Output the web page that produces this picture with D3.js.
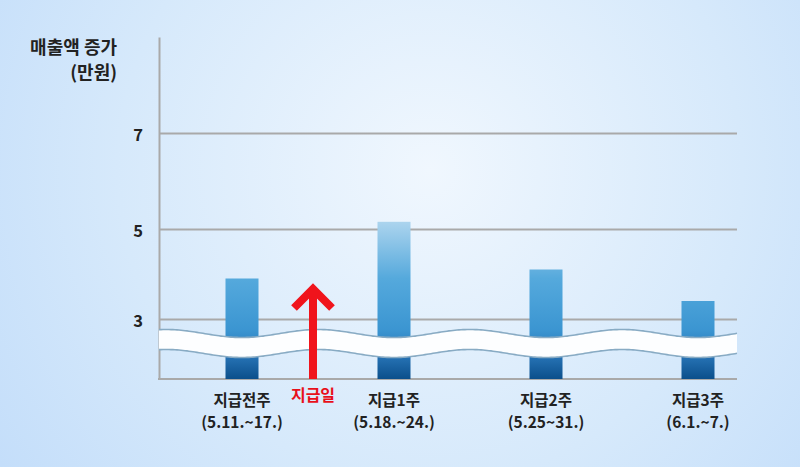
<!DOCTYPE html>
<html>
<head>
<meta charset="utf-8">
<script src="https://cdn.jsdelivr.net/npm/d3@7"></script>
<style>
  body { margin: 0; }
  svg { display: block; font-family: "Noto Sans CJK KR", "Noto Sans", sans-serif; }
</style>
</head>
<body>
<div id="chart"></div>
<script>
const categories = ["지급전주", "지급1주", "지급2주", "지급3주"];
const periods = ["(5.11.~17.)", "(5.18.~24.)", "(5.25~31.)", "(6.1.~7.)"];
const sales = [3.9, 5.15, 4.1, 3.4];
const yTicks = [3, 5, 7];

const W = 800, H = 467;
const x0 = 159, x1 = 737, yBase = 379;

const svg = d3.select("#chart")
    .append("svg")
    .attr("width", W)
    .attr("height", H);

const defs = svg.append("defs");

// soft radial background
const bg = defs.append("radialGradient")
    .attr("id", "bg")
    .attr("gradientUnits", "userSpaceOnUse")
    .attr("cx", 430).attr("cy", 170).attr("r", 520);
bg.append("stop").attr("offset", 0).attr("stop-color", "#f0f7fe");
bg.append("stop").attr("offset", 0.6).attr("stop-color", "#d6e9fb");
bg.append("stop").attr("offset", 1).attr("stop-color", "#c4defa");

svg.append("rect")
    .attr("width", W)
    .attr("height", H)
    .attr("fill", "url(#bg)");

// scales (y axis is broken below 3, so it is piecewise)
const x = d3.scalePoint()
    .domain(categories)
    .range([242, 698]);

const y = d3.scaleLinear()
    .domain([1.67, 3, 5, 7, 9])
    .range([yBase, 319, 229, 133, 37]);

// bar gradient in user space so taller bars get lighter tops
const bar = defs.append("linearGradient")
    .attr("id", "barGrad")
    .attr("gradientUnits", "userSpaceOnUse")
    .attr("x1", 0).attr("x2", 0)
    .attr("y1", y(d3.max(sales))).attr("y2", yBase);
[[0, "#acd4ee"], [0.36, "#55a9dc"], [0.5, "#4aa1d8"], [0.69, "#3b95d1"], [0.86, "#2672b4"], [1, "#0b4f8b"]]
    .forEach(s => bar.append("stop").attr("offset", s[0]).attr("stop-color", s[1]));

// y axis + grid
const yAxis = svg.append("g")
    .attr("transform", `translate(${x0},0)`)
    .call(d3.axisLeft(y)
        .tickValues(yTicks)
        .tickSize(-(x1 - x0))
        .tickSizeOuter(0)
        .tickPadding(16));

yAxis.select(".domain")
    .attr("stroke", "#a9a9a9")
    .attr("stroke-width", 2);
yAxis.selectAll(".tick line")
    .attr("stroke", "#a9a9a9")
    .attr("stroke-width", 2);
yAxis.selectAll(".tick text")
    .attr("dy", "0.45em")
    .attr("fill", "#222")
    .style("font-size", "16.5px")
    .style("font-weight", 700)
    .style("font-family", "'Noto Sans CJK KR', sans-serif");

// baseline
svg.append("line")
    .attr("x1", x0 - 1).attr("x2", x1)
    .attr("y1", yBase).attr("y2", yBase)
    .attr("stroke", "#a9a9a9")
    .attr("stroke-width", 2);

// bars
const barW = 33;
svg.selectAll(".bar")
    .data(sales)
    .join("rect")
    .attr("class", "bar")
    .attr("x", (d, i) => x(categories[i]) - barW / 2)
    .attr("y", d => y(d))
    .attr("width", barW)
    .attr("height", d => yBase - y(d))
    .attr("fill", "url(#barGrad)");

// wavy axis break band
const period = x.step();
const waveC = px => 343.5 + 4 * Math.cos(2 * Math.PI * (px - x(categories[0])) / period);
const xs = d3.range(x0, x1 + 0.5, 2);
const upperEdge = xs.map(px => [px, waveC(px) - 10]);
const lowerEdge = xs.map(px => [px, waveC(px) + 10]);

svg.append("path")
    .attr("d", d3.line()(upperEdge.concat(lowerEdge.slice().reverse())) + "Z")
    .attr("fill", "#fdfeff");
[upperEdge, lowerEdge].forEach(edge => {
    svg.append("path")
        .attr("d", d3.line()(edge))
        .attr("fill", "none")
        .attr("stroke", "#88abc4")
        .attr("stroke-width", 1.6);
});

// payment day arrow
const xa = (x(categories[0]) + x(categories[1])) / 2 - 5;
svg.append("path")
    .attr("d", `M${xa},${yBase} V290 M${xa - 19},308 L${xa},289 L${xa + 19},308`)
    .attr("fill", "none")
    .attr("stroke", "#f0141c")
    .attr("stroke-width", 8)
    .attr("stroke-linejoin", "miter");

svg.append("text")
    .attr("x", xa)
    .attr("y", 401)
    .attr("text-anchor", "middle")
    .attr("fill", "#e8101a")
    .style("font-size", "16px")
    .style("font-weight", 700)
    .text("지급일");

// x labels
categories.forEach((c, i) => {
    const t = svg.append("text")
        .attr("text-anchor", "middle")
        .attr("fill", "#222")
        .style("font-size", "15.5px")
        .style("font-weight", 700);
    t.append("tspan").attr("x", x(c)).attr("y", 406).text(c);
    t.append("tspan").attr("x", x(c)).attr("y", 428).text(periods[i]);
});

// y title
const title = svg.append("text")
    .attr("text-anchor", "end")
    .attr("fill", "#222")
    .style("font-size", "18px")
    .style("font-weight", 700);
title.append("tspan").attr("x", 117).attr("y", 54).text("매출액 증가");
title.append("tspan").attr("x", 117).attr("y", 79).text("(만원)");
</script>
</body>
</html>
